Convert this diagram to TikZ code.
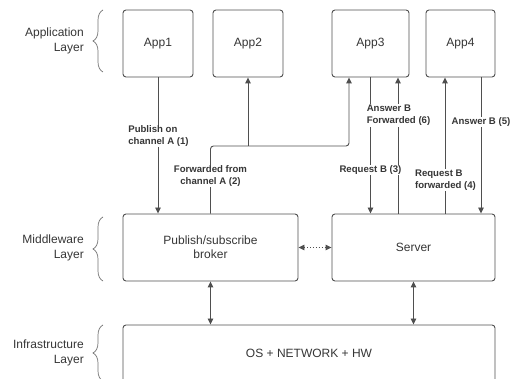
\documentclass[tikz,border=0pt]{standalone}
\usepackage{fontspec}
\setmainfont{Liberation Sans}
\usetikzlibrary{arrows.meta,decorations.pathreplacing,calc}
\definecolor{ln}{HTML}{4F4F4F}
\definecolor{tx}{HTML}{363636}
\begin{document}
\begin{tikzpicture}[x=1pt,y=-1pt,
  box/.style={draw=ln,line width=0.9pt,rounded corners=3pt,fill=white,text=tx,
    font=\fontsize{12}{14}\selectfont,inner sep=0pt,align=center},
  lbl/.style={fill=white,text=tx,font=\bfseries\fontsize{9.6}{12}\selectfont,
    inner sep=0.8pt,align=left},
  layer/.style={text=tx,font=\fontsize{12}{15}\selectfont,align=right,anchor=east,inner sep=0pt},
  conn/.style={draw=ln,line width=0.9pt},
  arr/.style={conn,-{Triangle[length=6pt,width=5.5pt]}},
  darr/.style={conn,{Triangle[length=6pt,width=5.5pt]}-{Triangle[length=6pt,width=5.5pt]}},
  brc/.style={draw=ln!80,line width=0.7pt,decorate,decoration={brace,amplitude=10pt}}]
\useasboundingbox (0,0) rectangle (517,379);
\clip (0,0) rectangle (517,379);

% boxes
\node[box,minimum width=70pt,minimum height=67pt] (app1) at (158,43.5) {App1};
\node[box,minimum width=70pt,minimum height=67pt] (app2) at (248,43.5) {App2};
\node[box,minimum width=77pt,minimum height=67pt] (app3) at (370.5,43.5) {App3};
\node[box,minimum width=69pt,minimum height=67pt] (app4) at (460.5,43.5) {App4};
\node[box,minimum width=175pt,minimum height=67pt] (broker) at (210.5,247.5) {Publish/subscribe\\broker};
\node[box,minimum width=163pt,minimum height=67pt] (server) at (413.5,247.5) {Server};
\node[box,minimum width=372pt,minimum height=90pt] (os) at (309,370) {};
\node[text=tx,font=\fontsize{12}{14}\selectfont] (ostext) at (309,353) {OS + NETWORK + HW};

% layer labels
\node[layer] (lapp) at (84,41) {Application\\Layer};
\node[layer] (lmid) at (84,248) {Middleware\\Layer};
\node[layer] (linf) at (84,352.5) {Infrastructure\\Layer};
\draw[brc] (103,72) -- (103,10);
\draw[brc] (103,281) -- (103,217);
\draw[brc] (103,381) -- (103,325);

% connectors
\coordinate (bend) at (349,146);
\coordinate (a3r) at ($(app3.south)+(27.5,0)$);
\coordinate (a4l) at ($(app4.south)+(-15.5,0)$);
\coordinate (a4r) at ($(app4.south)+(20.5,0)$);

\draw[arr] (app1.south) -- (app1.south |- broker.north);
\draw[arr,rounded corners=3pt] (broker.north) |- (bend) -- (bend |- app3.south);
\draw[arr] (app2.south |- bend) -- (app2.south);
\draw[arr] (app3.south) -- (app3.south |- server.north);
\draw[arr] (a3r |- server.north) -- (a3r);
\draw[arr] (a4l |- server.north) -- (a4l);
\draw[arr] (a4r) -- (a4r |- server.north);
\draw[darr,dotted] (broker.east) -- (server.west);
\draw[darr] (broker.south) -- (broker.south |- os.north);
\draw[darr] (server.south) -- (server.south |- os.north);

% labels
\node[lbl] (l1) at (158.5,136) {Publish on\\channel A (1)};
\node[lbl,align=center] (l2) at (210.5,176) {Forwarded from\\channel A (2)};
\node[lbl] (l3) at (370.5,170) {Request B (3)};
\node[lbl] (l6) at (398.5,115.5) {Answer B\\Forwarded (6)};
\node[lbl] (l4) at (445.5,180) {Request B\\forwarded (4)};
\node[lbl] (l5) at (481,122) {Answer B (5)};
\end{tikzpicture}
\end{document}
